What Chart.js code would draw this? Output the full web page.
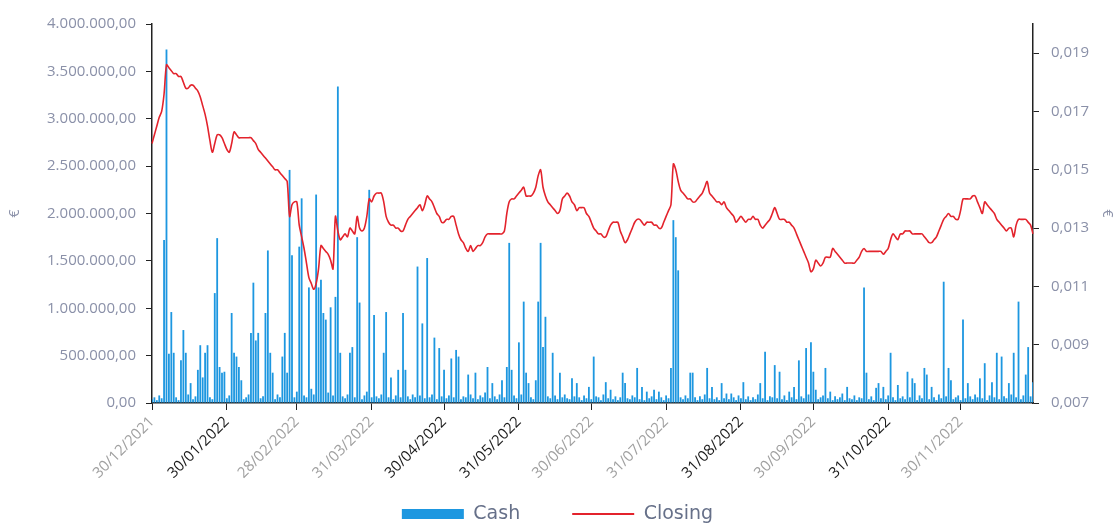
<!DOCTYPE html>
<html>
<head>
<meta charset="utf-8">
<title>Cash / Closing</title>
<script src="https://cdn.jsdelivr.net/npm/chart.js@4.4.1/dist/chart.umd.min.js"></script>
<style>
  html, body { margin: 0; padding: 0; background: #fff; }
  #chart { display: block; }
</style>
</head>
<body>
<canvas id="chart" width="1115" height="524"></canvas>
<script>
// one category per calendar day, 30/12/2021 .. 30/12/2022
const firstDay = Date.UTC(2021, 11, 30);
const dayCount = 366;

// dates that get a label on the x axis
const tickDates = [
    '30/12/2021', '30/01/2022', '28/02/2022', '31/03/2022', '30/04/2022', '31/05/2022',
    '30/06/2022', '31/07/2022', '31/08/2022', '30/09/2022', '31/10/2022', '30/11/2022'
]
const tickColors = [
    '#a0a0a0', '#1a1a1a', '#a0a0a0', '#a0a0a0', '#1a1a1a', '#1a1a1a',
    '#a0a0a0', '#a0a0a0', '#1a1a1a', '#a0a0a0', '#1a1a1a', '#a0a0a0'
]

const rightTicks = [0.007, 0.009, 0.011, 0.013, 0.015, 0.017, 0.019]

// daily cash volume (€), 10 days per row
const cash = [
    40000, 60000, 30000, 80000, 50000, 1720000, 3730000, 520000, 960000, 530000,
    60000, 30000, 450000, 770000, 530000, 90000, 210000, 40000, 70000, 350000,
    610000, 270000, 530000, 610000, 60000, 40000, 1160000, 1740000, 380000, 320000,
    330000, 50000, 80000, 950000, 530000, 490000, 380000, 240000, 40000, 60000,
    90000, 740000, 1270000, 660000, 740000, 50000, 70000, 950000, 1610000, 530000,
    320000, 40000, 90000, 60000, 490000, 740000, 320000, 2460000, 1560000, 60000,
    120000, 1650000, 2160000, 80000, 60000, 1220000, 150000, 90000, 2200000, 1220000,
    1300000, 950000, 880000, 110000, 1010000, 80000, 1120000, 3340000, 530000, 70000,
    50000, 90000, 530000, 590000, 60000, 1750000, 1060000, 40000, 80000, 120000,
    2250000, 60000, 930000, 70000, 50000, 90000, 530000, 960000, 60000, 270000,
    40000, 80000, 350000, 60000, 950000, 350000, 70000, 40000, 90000, 60000,
    1440000, 80000, 840000, 50000, 1530000, 60000, 90000, 690000, 40000, 580000,
    70000, 350000, 50000, 80000, 470000, 60000, 560000, 490000, 40000, 70000,
    60000, 300000, 90000, 50000, 320000, 40000, 80000, 60000, 110000, 380000,
    50000, 210000, 70000, 40000, 90000, 240000, 60000, 380000, 1690000, 350000,
    80000, 50000, 640000, 90000, 1070000, 320000, 210000, 60000, 40000, 240000,
    1070000, 1690000, 590000, 910000, 70000, 50000, 530000, 80000, 40000, 320000,
    60000, 90000, 50000, 40000, 260000, 70000, 210000, 60000, 30000, 80000,
    50000, 170000, 40000, 490000, 70000, 60000, 30000, 90000, 220000, 50000,
    140000, 40000, 70000, 30000, 60000, 320000, 210000, 50000, 40000, 80000,
    60000, 370000, 40000, 170000, 30000, 120000, 50000, 70000, 140000, 40000,
    120000, 60000, 30000, 80000, 50000, 370000, 1930000, 1750000, 1400000, 60000,
    40000, 80000, 50000, 320000, 320000, 60000, 30000, 70000, 40000, 90000,
    370000, 50000, 170000, 40000, 60000, 30000, 210000, 50000, 100000, 40000,
    100000, 60000, 30000, 80000, 50000, 220000, 40000, 70000, 30000, 60000,
    40000, 90000, 210000, 50000, 540000, 30000, 70000, 60000, 400000, 50000,
    330000, 40000, 80000, 30000, 120000, 60000, 170000, 40000, 450000, 70000,
    50000, 580000, 90000, 640000, 330000, 140000, 40000, 60000, 80000, 370000,
    50000, 120000, 30000, 70000, 40000, 60000, 100000, 30000, 170000, 50000,
    40000, 80000, 30000, 60000, 50000, 1220000, 320000, 40000, 70000, 30000,
    160000, 210000, 50000, 170000, 40000, 80000, 530000, 60000, 30000, 190000,
    50000, 70000, 40000, 330000, 60000, 260000, 210000, 30000, 80000, 50000,
    370000, 300000, 40000, 170000, 60000, 30000, 90000, 50000, 1280000, 70000,
    370000, 240000, 40000, 60000, 80000, 30000, 880000, 50000, 210000, 70000,
    40000, 90000, 60000, 260000, 50000, 420000, 30000, 80000, 220000, 60000,
    530000, 40000, 490000, 70000, 50000, 210000, 90000, 530000, 60000, 1070000,
    40000, 80000, 300000, 590000, 70000, 220000
]

// daily closing price (€), 10 days per row
const closing = [
    0.0159, 0.0162, 0.0165, 0.0168, 0.0170, 0.0176, 0.0186, 0.0185, 0.0184, 0.0183,
    0.0183, 0.0182, 0.0182, 0.0180, 0.0178, 0.0178, 0.0179, 0.0179, 0.0178, 0.0177,
    0.0175, 0.0172, 0.0169, 0.0165, 0.0160, 0.0156, 0.0159, 0.0162, 0.0162, 0.0161,
    0.0159, 0.0157, 0.0156, 0.0159, 0.0163, 0.0162, 0.0161, 0.0161, 0.0161, 0.0161,
    0.0161, 0.0161, 0.0160, 0.0159, 0.0157, 0.0156, 0.0155, 0.0154, 0.0153, 0.0152,
    0.0151, 0.0150, 0.0150, 0.0149, 0.0148, 0.0147, 0.0146, 0.0134, 0.0138, 0.0139,
    0.0139, 0.0131, 0.0127, 0.0123, 0.0118, 0.0113, 0.0111, 0.0109, 0.0111, 0.0116,
    0.0124, 0.0123, 0.0122, 0.0121, 0.0119, 0.0116, 0.0134, 0.0129, 0.0126, 0.0127,
    0.0128, 0.0127, 0.0130, 0.0129, 0.0128, 0.0134, 0.0130, 0.0129, 0.0130, 0.0134,
    0.0140, 0.0139, 0.0141, 0.0142, 0.0142, 0.0142, 0.0139, 0.0134, 0.0132, 0.0131,
    0.0131, 0.0130, 0.0130, 0.0129, 0.0129, 0.0131, 0.0133, 0.0134, 0.0135, 0.0136,
    0.0137, 0.0138, 0.0136, 0.0138, 0.0141, 0.0140, 0.0139, 0.0137, 0.0135, 0.0134,
    0.0132, 0.0132, 0.0133, 0.0133, 0.0134, 0.0134, 0.0131, 0.0128, 0.0126, 0.0125,
    0.0123, 0.0122, 0.0124, 0.0122, 0.0123, 0.0124, 0.0124, 0.0125, 0.0127, 0.0128,
    0.0128, 0.0128, 0.0128, 0.0128, 0.0128, 0.0128, 0.0129, 0.0135, 0.0139, 0.0140,
    0.0140, 0.0141, 0.0142, 0.0143, 0.0144, 0.0141, 0.0141, 0.0141, 0.0142, 0.0144,
    0.0148, 0.0150, 0.0144, 0.0141, 0.0139, 0.0138, 0.0137, 0.0136, 0.0135, 0.0136,
    0.0140, 0.0141, 0.0142, 0.0141, 0.0139, 0.0138, 0.0136, 0.0137, 0.0137, 0.0137,
    0.0135, 0.0134, 0.0132, 0.0130, 0.0129, 0.0128, 0.0128, 0.0127, 0.0127, 0.0129,
    0.0131, 0.0132, 0.0132, 0.0132, 0.0129, 0.0127, 0.0125, 0.0126, 0.0128, 0.0130,
    0.0132, 0.0133, 0.0133, 0.0132, 0.0131, 0.0132, 0.0132, 0.0132, 0.0131, 0.0131,
    0.0130, 0.0130, 0.0132, 0.0134, 0.0136, 0.0138, 0.0152, 0.0150, 0.0146, 0.0143,
    0.0142, 0.0141, 0.0140, 0.0140, 0.0139, 0.0139, 0.0140, 0.0141, 0.0142, 0.0144,
    0.0146, 0.0142, 0.0141, 0.0140, 0.0139, 0.0139, 0.0138, 0.0139, 0.0137, 0.0136,
    0.0135, 0.0134, 0.0132, 0.0133, 0.0134, 0.0133, 0.0132, 0.0133, 0.0133, 0.0134,
    0.0133, 0.0133, 0.0131, 0.0130, 0.0131, 0.0132, 0.0133, 0.0135, 0.0137, 0.0135,
    0.0133, 0.0133, 0.0133, 0.0132, 0.0132, 0.0131, 0.0130, 0.0128, 0.0126, 0.0124,
    0.0122, 0.0120, 0.0118, 0.0115, 0.0116, 0.0119, 0.0118, 0.0117, 0.0118, 0.0120,
    0.0120, 0.0120, 0.0123, 0.0122, 0.0121, 0.0120, 0.0119, 0.0118, 0.0118, 0.0118,
    0.0118, 0.0118, 0.0119, 0.0120, 0.0122, 0.0123, 0.0122, 0.0122, 0.0122, 0.0122,
    0.0122, 0.0122, 0.0122, 0.0121, 0.0122, 0.0123, 0.0126, 0.0128, 0.0127, 0.0126,
    0.0128, 0.0128, 0.0129, 0.0129, 0.0129, 0.0128, 0.0128, 0.0128, 0.0128, 0.0128,
    0.0127, 0.0126, 0.0125, 0.0125, 0.0126, 0.0127, 0.0129, 0.0131, 0.0133, 0.0134,
    0.0135, 0.0134, 0.0134, 0.0133, 0.0133, 0.0136, 0.0140, 0.0140, 0.0140, 0.0140,
    0.0141, 0.0141, 0.0139, 0.0137, 0.0135, 0.0139, 0.0138, 0.0137, 0.0136, 0.0135,
    0.0133, 0.0132, 0.0131, 0.0130, 0.0129, 0.0130, 0.0130, 0.0127, 0.0131, 0.0133,
    0.0133, 0.0133, 0.0133, 0.0132, 0.0131, 0.0128
]

function pad2(n) {
    return (n < 10 ? '0' : '') + n
}

let days = []
for (let i = 0; i < dayCount; i++) {
    const d = new Date(firstDay + i * 86400000)
    days.push(pad2(d.getUTCDate()) + '/' + pad2(d.getUTCMonth() + 1) + '/' + d.getUTCFullYear())
}

// 4000000 -> "4.000.000,00"
function formatMoney(v) {
    const parts = v.toFixed(2).split('.')
    return parts[0].replace(/\B(?=(\d{3})+(?!\d))/g, '.') + ',' + parts[1]
}

const axisColor = '#222222'
const labelGrey = '#8a90a8'

// the legend needs wide gaps between items but has to sit close to the axis labels,
// so after layout it is pulled up over the lower part of the x axis box
const legendLift = {
    id: 'legendLift',
    afterLayout(chart) {
        const lg = chart.legend
        lg.top = 452.5
        lg.bottom = lg.top + lg.height
    }
}

const ctx = document.getElementById('chart').getContext('2d')
const myChart = new Chart(ctx, {
    type: 'bar',
    data: {
        labels: days,
        datasets: [{
            label: 'Cash',
            data: cash,
            yAxisID: 'y',
            order: 1,
            backgroundColor: '#1d97e0',
            borderWidth: 0,
            barPercentage: 0.75,
            categoryPercentage: 1.0
        }, {
            type: 'line',
            label: 'Closing',
            data: closing,
            yAxisID: 'y1',
            order: 0,
            borderColor: '#e3232c',
            backgroundColor: '#e3232c',
            borderWidth: 1.6,
            pointRadius: 0,
            tension: 0.3,
            fill: false
        }]
    },
    plugins: [legendLift],
    options: {
        responsive: false,
        animation: false,
        devicePixelRatio: 1,
        layout: {
            padding: { top: 24, left: 0, right: 0, bottom: -55 }
        },
        plugins: {
            tooltip: { enabled: false },
            legend: {
                position: 'bottom',
                labels: {
                    usePointStyle: true,
                    pointStyleWidth: 62,
                    boxHeight: 10,
                    padding: 52,
                    color: '#667089',
                    font: { family: 'DejaVu Sans', size: 19 },
                    sort: (a, b) => a.datasetIndex - b.datasetIndex,
                    generateLabels: chart => {
                        const items = Chart.defaults.plugins.legend.labels.generateLabels(chart)
                        items.forEach(item => {
                            if (item.datasetIndex === 0) {
                                item.pointStyle = 'rect'
                            } else {
                                item.pointStyle = 'line'
                                item.lineWidth = 2
                            }
                        })
                        return items
                    }
                }
            }
        },
        scales: {
            x: {
                type: 'category',
                offset: false,
                grid: { offset: false, drawOnChartArea: false, tickLength: 7, color: axisColor },
                border: { color: axisColor, width: 1.5 },
                ticks: {
                    autoSkip: false,
                    minRotation: 45,
                    maxRotation: 45,
                    padding: 3,
                    font: { family: 'Open Sans', size: 15 },
                    color: c => tickColors[c.index] || labelGrey
                },
                afterBuildTicks: axis => {
                    axis.ticks = axis.ticks.filter(t => tickDates.includes(days[t.value]))
                },
                afterFit: axis => { axis.height = 95 }
            },
            y: {
                position: 'left',
                min: 0,
                max: 4000000,
                ticks: {
                    stepSize: 500000,
                    padding: 10,
                    color: labelGrey,
                    font: { family: 'Open Sans', size: 15 },
                    callback: v => formatMoney(v)
                },
                grid: { drawOnChartArea: false, tickLength: 6, color: axisColor },
                border: { color: axisColor, width: 1.5 },
                title: {
                    display: true,
                    text: '€',
                    color: labelGrey,
                    font: { family: 'Open Sans', size: 14 },
                    padding: { top: 7, bottom: 0 }
                },
                afterFit: axis => { axis.width = 152 }
            },
            y1: {
                position: 'right',
                min: 0.007,
                max: 0.020,
                afterBuildTicks: axis => {
                    axis.ticks = rightTicks.map(v => ({ value: v }))
                },
                ticks: {
                    padding: 12,
                    color: labelGrey,
                    font: { family: 'Open Sans', size: 15 },
                    callback: v => v.toFixed(3).replace('.', ',')
                },
                grid: { drawOnChartArea: false, tickLength: 6, color: axisColor },
                border: { color: axisColor, width: 1.5 },
                title: {
                    display: true,
                    text: '€',
                    color: labelGrey,
                    font: { family: 'Open Sans', size: 14 },
                    padding: { top: 0, bottom: 0 }
                },
                afterFit: axis => { axis.width = 82 }
            }
        }
    }
});
</script>
</body>
</html>
